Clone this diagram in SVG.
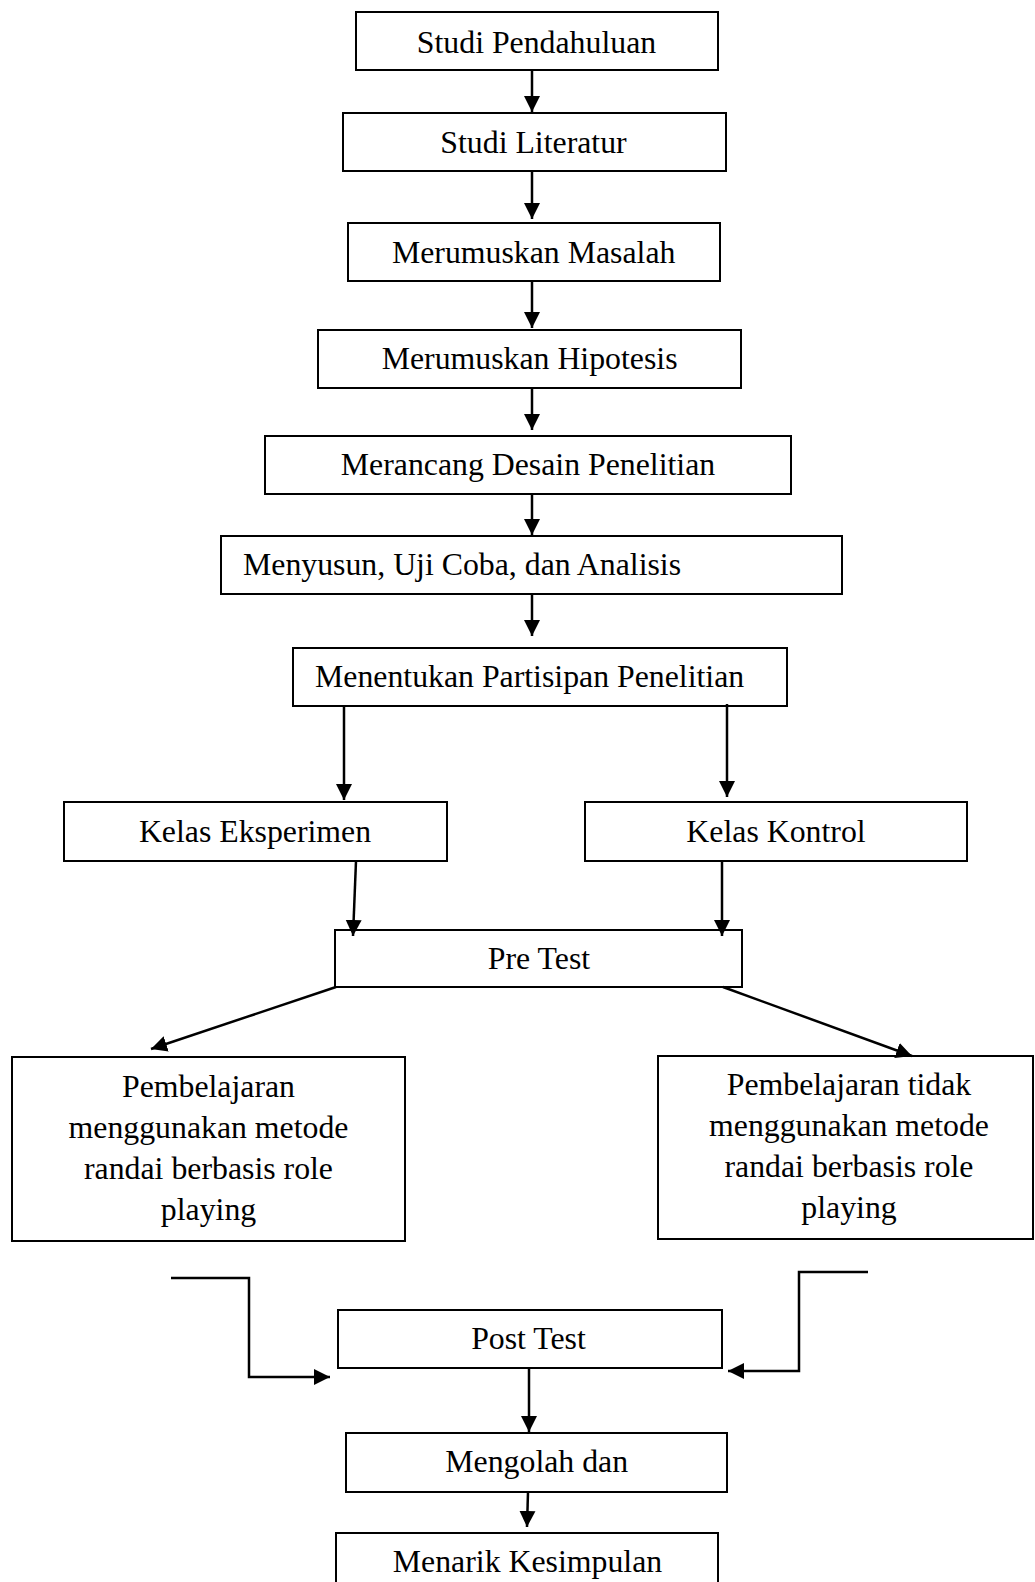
<svg xmlns="http://www.w3.org/2000/svg" width="1035" height="1582" viewBox="0 0 1035 1582">
<style>
.box{fill:#fff;stroke:#000;stroke-width:2}
.t{font-family:"Liberation Serif","Times New Roman",serif;font-size:31.8px;fill:#000;text-anchor:middle}
.tl{text-anchor:start}
.c{fill:none;stroke:#000;stroke-width:2.5}
</style>
<defs>
<marker id="ah" markerUnits="userSpaceOnUse" markerWidth="18" markerHeight="18" refX="16" refY="8.5" orient="auto">
<path d="M0,0.5 L16,8.5 L0,16.5 z" fill="#000"/>
</marker>
</defs>
<rect width="1035" height="1582" fill="#fff"/>
<g id="n1"><rect class="box" x="356" y="12" width="362" height="58"/><text class="t" x="536.5" y="53">Studi Pendahuluan</text></g>
<g id="n2"><rect class="box" x="343" y="113" width="383" height="58"/><text class="t" x="533.5" y="153">Studi Literatur</text></g>
<g id="n3"><rect class="box" x="348" y="223" width="372" height="58"/><text class="t" x="533.7" y="263">Merumuskan Masalah</text></g>
<g id="n4"><rect class="box" x="318" y="330" width="423" height="58"/><text class="t" x="529.6" y="369">Merumuskan Hipotesis</text></g>
<g id="n5"><rect class="box" x="265" y="436" width="526" height="58"/><text class="t" x="528" y="475">Merancang Desain Penelitian</text></g>
<g id="n6"><rect class="box" x="221" y="536" width="621" height="58"/><text class="t tl" x="243" y="575">Menyusun, Uji Coba, dan Analisis</text></g>
<g id="n7"><rect class="box" x="293" y="648" width="494" height="58"/><text class="t tl" x="315" y="687">Menentukan Partisipan Penelitian</text></g>
<g id="n8"><rect class="box" x="64" y="802" width="383" height="59"/><text class="t" x="255" y="842">Kelas Eksperimen</text></g>
<g id="n9"><rect class="box" x="585" y="802" width="382" height="59"/><text class="t" x="776" y="842">Kelas Kontrol</text></g>
<g id="n10"><rect class="box" x="335" y="930" width="407" height="57"/><text class="t" x="539" y="969">Pre Test</text></g>
<g id="n11"><rect class="box" x="12" y="1057" width="393" height="184"/>
<text class="t" x="208.5" y="1097">Pembelajaran</text>
<text class="t" x="208.5" y="1138">menggunakan metode</text>
<text class="t" x="208.5" y="1179">randai berbasis role</text>
<text class="t" x="208.5" y="1220">playing</text></g>
<g id="n12"><rect class="box" x="658" y="1056" width="375" height="183"/>
<text class="t" x="849" y="1095">Pembelajaran tidak</text>
<text class="t" x="849" y="1136">menggunakan metode</text>
<text class="t" x="849" y="1177">randai berbasis role</text>
<text class="t" x="849" y="1218">playing</text></g>
<g id="n13"><rect class="box" x="338" y="1310" width="384" height="58"/><text class="t" x="528.5" y="1349">Post Test</text></g>
<g id="n14"><rect class="box" x="346" y="1433" width="381" height="59"/><text class="t" x="536.7" y="1472">Mengolah dan</text></g>
<g id="n15"><rect class="box" x="336" y="1533" width="382" height="60"/><text class="t" x="527.5" y="1572">Menarik Kesimpulan</text></g>
<g id="connectors">
<line class="c" x1="532" y1="70" x2="532" y2="112" marker-end="url(#ah)"/>
<line class="c" x1="532" y1="171" x2="532" y2="219" marker-end="url(#ah)"/>
<line class="c" x1="532" y1="281" x2="532" y2="328" marker-end="url(#ah)"/>
<line class="c" x1="532" y1="388" x2="532" y2="430" marker-end="url(#ah)"/>
<line class="c" x1="532" y1="494" x2="532" y2="535" marker-end="url(#ah)"/>
<line class="c" x1="532" y1="594" x2="532" y2="636" marker-end="url(#ah)"/>
<line class="c" x1="344" y1="706" x2="344" y2="800" marker-end="url(#ah)"/>
<line class="c" x1="727" y1="704" x2="727" y2="797" marker-end="url(#ah)"/>
<line class="c" x1="356" y1="861" x2="353" y2="936" marker-end="url(#ah)"/>
<line class="c" x1="722" y1="861" x2="722" y2="936" marker-end="url(#ah)"/>
<line class="c" x1="336" y1="987" x2="151" y2="1049" marker-end="url(#ah)"/>
<line class="c" x1="723" y1="987" x2="912" y2="1056" marker-end="url(#ah)"/>
<polyline class="c" points="171,1278 249,1278 249,1377 330,1377" marker-end="url(#ah)"/>
<polyline class="c" points="868,1272 799,1272 799,1371 728,1371" marker-end="url(#ah)"/>
<line class="c" x1="529" y1="1368" x2="529" y2="1432" marker-end="url(#ah)"/>
<line class="c" x1="528" y1="1492" x2="527" y2="1527" marker-end="url(#ah)"/>
</g>
</svg>
